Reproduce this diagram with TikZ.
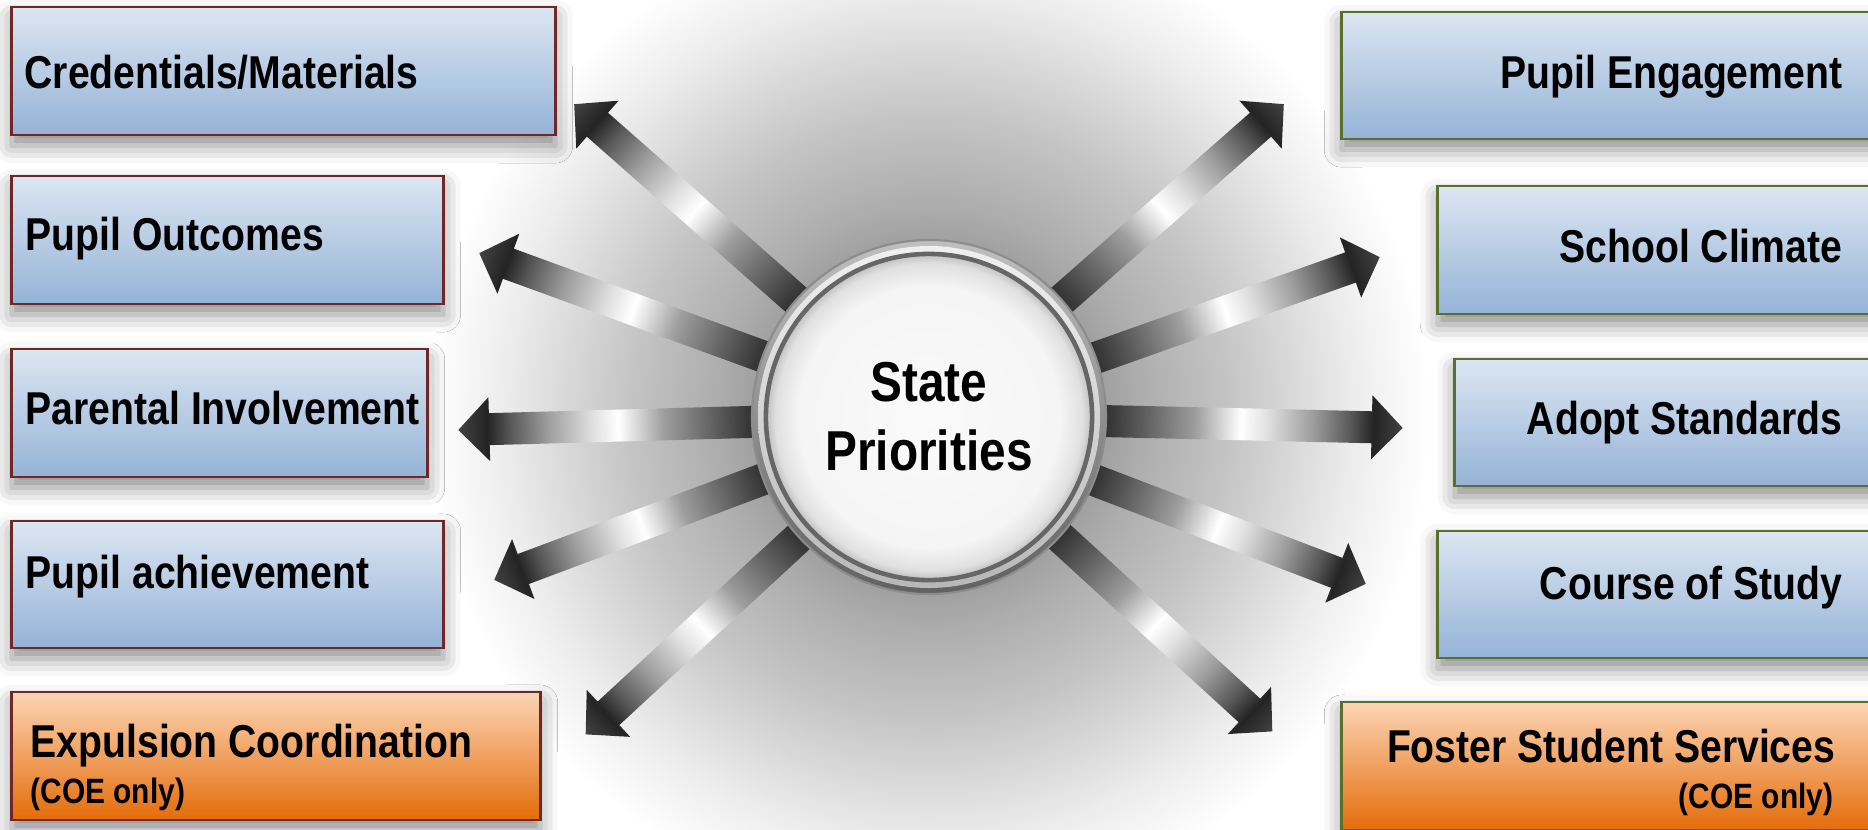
\documentclass[tikz,border=0pt]{standalone}
\usepackage{fontspec}
\newfontfamily\narrowsf[FakeStretch=0.85]{Liberation Sans}
\usetikzlibrary{shadows.blur,calc}
\pgfdeclarelayer{back}
\pgfsetlayers{back,main}
\definecolor{bluetop}{HTML}{DCE6F2}
\definecolor{bluebot}{HTML}{95B3D7}
\definecolor{orgtop}{HTML}{FCD5B5}
\definecolor{orgbot}{HTML}{E46C0A}
\definecolor{redline}{RGB}{110,40,40}
\definecolor{greenline}{RGB}{90,110,50}
\pgfdeclarehorizontalshading{metal}{100bp}{color(0bp)=(black!88); color(25bp)=(black!88); color(30bp)=(black!78); color(36bp)=(black!60); color(43bp)=(black!38); color(50bp)=(white); color(54bp)=(black!12); color(61bp)=(black!38); color(67bp)=(black!66); color(70.5bp)=(black!86); color(75bp)=(black!74); color(100bp)=(black!74)}
\pgfdeclareradialshading{glow}{\pgfpoint{0bp}{0bp}}{color(0bp)=(black!44); color(8.5bp)=(black!38); color(10.7bp)=(black!32); color(15bp)=(black!23); color(17.8bp)=(black!16); color(21.4bp)=(black!7); color(25bp)=(white); color(50bp)=(white)}
\pgfdeclareradialshading{disc}{\pgfpoint{0bp}{0bp}}{color(0bp)=(black!2); color(20bp)=(black!4); color(23.5bp)=(black!12); color(25bp)=(black!25); color(50bp)=(black!25)}
\newcommand\metarrow[2]{%
  \path let \p1=(#1), \p2=(#2),
    \n1={atan2(\y2-\y1,\x2-\x1)},
    \n2={veclen(\x2-\x1,\y2-\y1)}
    in \pgfextra{\xdef\arrang{\n1}\xdef\arrlenraw{\n2}\xdef\arrx{\x1}\xdef\arry{\y1}};
  \pgfmathsetmacro\arrlen{\arrlenraw/0.284528}%
  \pgfmathsetmacro\arrhb{\arrlen-31}%
  \begin{scope}[transform canvas={shift={(\arrx,\arry)},rotate=\arrang}]
    \shade[shading=metal] (150,-16) -- (\arrhb,-16) -- (\arrhb,-32) -- (\arrlen,0) -- (\arrhb,32) -- (\arrhb,16) -- (150,16) -- cycle;
  \end{scope}}
\begin{document}
\begin{tikzpicture}[x=0.01cm,y=-0.01cm,
  lbox/.style={rectangle, draw=redline, line width=0.8pt, top color=bluetop, bottom color=bluebot, inner sep=0pt,
    blur shadow={shadow xshift=0pt, shadow yshift=-3pt, shadow blur radius=5pt, shadow opacity=45}},
  rbox/.style={lbox, draw=greenline},
  lobox/.style={lbox, top color=orgtop, bottom color=orgbot},
  robox/.style={rbox, top color=orgtop, bottom color=orgbot},
  boxtext/.style={font=\narrowsf\bfseries\fontsize{13.1pt}{15pt}\selectfont, inner sep=0pt},
  coetext/.style={font=\narrowsf\bfseries\fontsize{10pt}{12pt}\selectfont, inner sep=0pt},
  centertext/.style={font=\narrowsf\bfseries\fontsize{16pt}{19.6pt}\selectfont, align=center},
]
\useasboundingbox (0,0) rectangle (1868,829);
\clip (0,0) rectangle (1868,829);
% boxes
\node[lbox, minimum width=5.43cm, minimum height=1.28cm] (b1) at (283.5,71) {};
\node[lbox, minimum width=4.31cm, minimum height=1.28cm] (b2) at (227.5,240) {};
\node[lbox, minimum width=4.15cm, minimum height=1.28cm] (b3) at (219.5,413) {};
\node[lbox, minimum width=4.31cm, minimum height=1.27cm] (b4) at (227.5,584.5) {};
\node[lobox, minimum width=5.28cm, minimum height=1.28cm] (b5) at (276,756) {};
\node[rbox, minimum width=5.48cm, minimum height=1.27cm] (b6) at (1616,75.5) {};
\node[rbox, minimum width=4.52cm, minimum height=1.28cm] (b7) at (1664,250) {};
\node[rbox, minimum width=4.35cm, minimum height=1.27cm] (b8) at (1672.5,422.5) {};
\node[rbox, minimum width=4.52cm, minimum height=1.27cm] (b9) at (1664,594.5) {};
\node[robox, minimum width=5.48cm, minimum height=1.28cm] (b10) at (1616,766) {};
% texts
\node[boxtext, anchor=base west] (t1) at (24,88) {Credentials/Materials};
\node[boxtext, anchor=base west] (t2) at (25,250) {Pupil Outcomes};
\node[boxtext, anchor=base west] (t3) at (25,424) {Parental Involvement};
\node[boxtext, anchor=base west] (t4) at (25,588) {Pupil achievement};
\node[boxtext, anchor=base west] (t5) at (30,757) {Expulsion Coordination};
\node[coetext, anchor=base west] (t5b) at (30,803) {(COE only)};
\node[boxtext, anchor=base east] (t6) at (1843,88) {Pupil Engagement};
\node[boxtext, anchor=base east] (t7) at (1843,262) {School Climate};
\node[boxtext, anchor=base east] (t8) at (1843,434) {Adopt Standards};
\node[boxtext, anchor=base east] (t9) at (1843,599) {Course of Study};
\node[boxtext, anchor=base east] (t10) at (1836,762) {Foster Student Services};
\node[coetext, anchor=base east] (t10b) at (1834,808) {(COE only)};
% centre
\node[circle, minimum size=3.26cm, inner sep=0pt, shading=disc, draw=black!60, line width=1.3pt, centertext] (sp) at (929,417) {State\\Priorities};
% arrow tips
\coordinate (a1) at (574,104);
\coordinate (a2) at (479,253);
\coordinate (a3) at (458,430);
\coordinate (a4) at (494,580);
\coordinate (a5) at (585,735);
\coordinate (a6) at (1284,104);
\coordinate (a7) at (1380,257);
\coordinate (a8) at (1403,428);
\coordinate (a9) at (1366,584);
\coordinate (a10) at (1273,732);
\begin{pgfonlayer}{back}
  \shade[shading=glow] (sp.center) circle [radius=500];
  \foreach \t in {a1,a2,a3,a4,a5,a6,a7,a8,a9,a10} {\metarrow{sp.center}{\t}}
  \shade[top color=black!25, bottom color=black!62, draw=black!45, line width=0.6pt] (sp.center) circle [radius=177];
  \shade[top color=black!6, bottom color=black!28] (sp.center) circle [radius=171];
\end{pgfonlayer}
\end{tikzpicture}
\end{document}
